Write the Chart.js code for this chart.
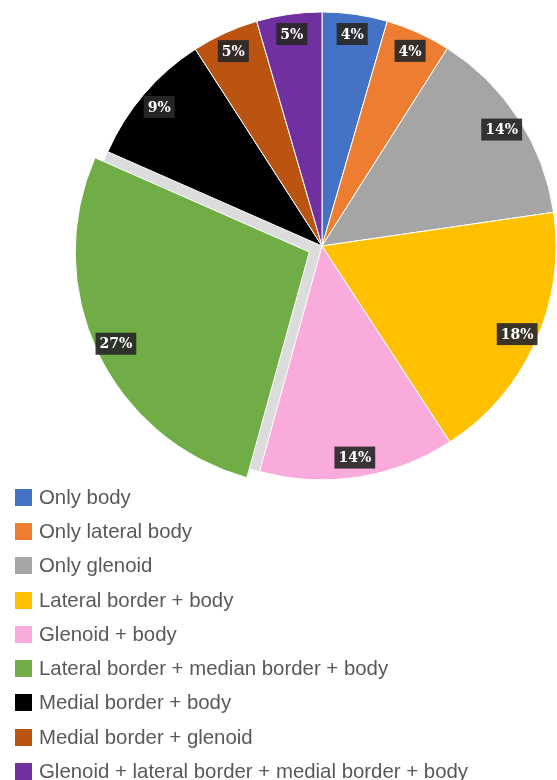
<!DOCTYPE html>
<html>
<head>
<meta charset="utf-8">
<script src="https://cdn.jsdelivr.net/npm/chart.js@4/dist/chart.umd.min.js"></script>
<style>
  body { margin: 0; background: #fff; width: 557px; height: 780px; overflow: hidden; }
  #wrap { position: absolute; left: 0; top: 0; width: 557px; height: 490px; }
  #legend { position: absolute; left: 15px; top: 480px; font-family: "Liberation Sans", Arial, sans-serif; font-size: 20.4px; color: #595959; }
  .row { height: 34.3px; display: flex; align-items: center; }
  .sw { width: 17px; height: 17px; margin-right: 7px; flex: none; }
</style>
</head>
<body>
<div id="wrap"><canvas id="myChart" width="557" height="490"></canvas></div>
<div id="legend"></div>
<script>
// categories, slice shares and the printed labels
const categories = [
  "Only body",
  "Only lateral body",
  "Only glenoid",
  "Lateral border + body",
  "Glenoid + body",
  "Lateral border + median border + body",
  "Medial border + body",
  "Medial border + glenoid",
  "Glenoid + lateral border + medial border + body"
];
const values = [4.5, 4.5, 13.7, 18.1, 13.5, 27.3, 9.3, 4.6, 4.5];
const pctLabels = ["4%", "4%", "14%", "18%", "14%", "27%", "9%", "5%", "5%"];
const colors = ["#4472C4", "#ED7D31", "#A5A5A5", "#FFC000", "#F9ACDC", "#70AD47", "#000000", "#BA5410", "#7030A0"];
// chart.js moves an arc by offset/4
const offsets = [0, 0, 0, 0, 0, 56, 0, 0, 0];

// grey wedge behind the pulled-out slice
const gapPlugin = {
  id: 'gap',
  beforeDatasetsDraw(chart) {
    const ctx = chart.ctx;
    chart.getDatasetMeta(0).data.forEach((arc, i) => {
      if (!offsets[i]) return;
      const p = arc.getProps(['x', 'y', 'startAngle', 'endAngle', 'outerRadius'], true);
      ctx.save();
      ctx.fillStyle = '#dcdcdc';
      ctx.beginPath();
      ctx.moveTo(p.x, p.y);
      ctx.arc(p.x, p.y, p.outerRadius, p.startAngle, p.endAngle);
      ctx.closePath();
      ctx.fill();
      ctx.restore();
    });
  }
};

// dark boxed percentage labels
const labelPlugin = {
  id: 'boxLabels',
  afterDatasetsDraw(chart) {
    const ctx = chart.ctx;
    ctx.save();
    ctx.font = 'bold 14px "DejaVu Serif", "Liberation Serif", serif';
    ctx.textAlign = 'center';
    ctx.textBaseline = 'middle';
    chart.getDatasetMeta(0).data.forEach((arc, i) => {
      const p = arc.getProps(['x', 'y', 'startAngle', 'endAngle', 'outerRadius'], true);
      const a = (p.startAngle + p.endAngle) / 2;
      const r = p.outerRadius * 0.915 + offsets[i] / 4;
      const x = p.x + Math.cos(a) * r;
      const y = p.y + Math.sin(a) * r;
      const txt = pctLabels[i];
      const w = ctx.measureText(txt).width + 8;
      ctx.fillStyle = 'rgba(40,40,40,0.92)';
      ctx.fillRect(x - w / 2, y - 11, w, 22);
      ctx.fillStyle = '#ffffff';
      ctx.fillText(txt, x, y + 1);
    });
    ctx.restore();
  }
};

let ctx = document.getElementById('myChart');
var chart = new Chart(ctx, {
  type: 'pie',
  data: {
    labels: categories,
    datasets: [{
      data: values,
      backgroundColor: colors,
      borderColor: '#ffffff',
      borderWidth: 1,
      offset: offsets
    }]
  },
  options: {
    responsive: false,
    animation: false,
    radius: 234,
    layout: { padding: { left: 87, top: 2 } },
    plugins: {
      legend: { display: false },
      tooltip: { enabled: false }
    }
  },
  plugins: [gapPlugin, labelPlugin]
});

// legend
const legend = document.getElementById('legend');
categories.forEach((c, i) => {
  const row = document.createElement('div');
  row.className = 'row';
  row.innerHTML = '<span class="sw" style="background:' + colors[i] + '"></span><span>' + c + '</span>';
  legend.appendChild(row);
});
</script>
</body>
</html>
